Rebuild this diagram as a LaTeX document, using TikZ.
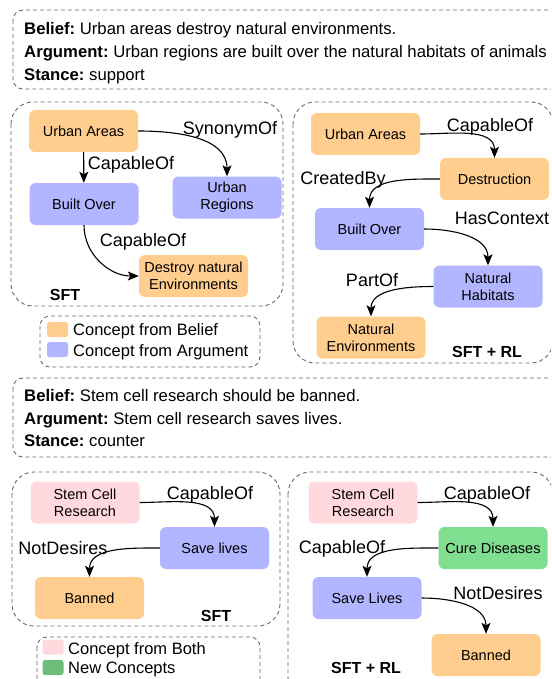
\documentclass[tikz,border=0pt]{standalone}
\usepackage{fontspec}
\setmainfont{Liberation Sans}
\usetikzlibrary{arrows.meta}
\definecolor{cbel}{RGB}{255,206,142}
\definecolor{carg}{RGB}{178,181,255}
\definecolor{cboth}{RGB}{255,217,222}
\definecolor{cnew}{RGB}{128,222,144}
\definecolor{dgray}{RGB}{105,105,105}
\frenchspacing
\begin{document}
\begin{tikzpicture}[x=1pt,y=-1pt,
  concept/.style={rounded corners=6pt, minimum width=109pt, minimum height=42pt,
    inner sep=0pt, align=center, font=\fontsize{14.5}{17}\selectfont},
  bel/.style={concept, fill=cbel},
  arg/.style={concept, fill=carg},
  both/.style={concept, fill=cboth},
  newc/.style={concept, fill=cnew},
  rel/.style={-{Stealth[length=11pt,width=9pt,inset=2.5pt]}, line width=1.1pt},
  lab/.style={font=\fontsize{18}{20}\selectfont, inner sep=0pt, text height=13pt, text depth=0pt},
  tagl/.style={font=\bfseries\fontsize{16}{18}\selectfont, inner sep=0pt},
  txt/.style={font=\fontsize{16.7}{19}\selectfont, inner sep=0pt, anchor=base west},
  legt/.style={font=\fontsize{16.5}{18}\selectfont, inner sep=0pt, anchor=west, text height=12pt, text depth=0pt},
  swatch/.style={rounded corners=2.5pt, minimum width=21pt, minimum height=15pt, inner sep=0pt},
  panel/.style={draw=dgray, dash pattern=on 4pt off 3pt, line width=0.9pt, rounded corners=22pt},
  tbox/.style={draw=dgray, dash pattern=on 4pt off 3pt, line width=0.9pt, rounded corners=10pt},
]
\useasboundingbox (0,0) rectangle (551,679);
\clip (0,0) rectangle (551,679);

% ---------- top text box ----------
\draw[tbox] (13,10) rectangle (570,89);
\node[txt] (t1) at (24,35) {\textbf{Belief:} Urban areas destroy natural environments.};
\node[txt] (t2) at (24,58) {\textbf{Argument:} Urban regions are built over the natural habitats of animals};
\node[txt] (t3) at (24,81) {\textbf{Stance:} support};

% ---------- panel 1 SFT ----------
\draw[panel] (11,102) rectangle (283,306);
\node[bel] (ua1) at (83.5,131) {Urban Areas};
\node[arg] (bo1) at (84,204) {Built Over};
\node[arg] (ur1) at (227,197.5) {Urban\\Regions};
\node[bel] (dn1) at (193.5,276) {Destroy natural\\Environments};
\draw[rel] (ua1) -- (bo1);
\draw[rel] (ua1.east) to[out=0,in=90] (ur1.north);
\draw[rel] (bo1.south) to[out=-90,in=180] (dn1.west);
\node[lab] (l11) at (131,163) {CapableOf};
\node[lab] (l12) at (230,128) {SynonymOf};
\node[lab] (l13) at (143,240) {CapableOf};
\node[tagl] (s1) at (65,295) {SFT};

% ---------- panel 1 SFT + RL ----------
\draw[panel] (293,102) rectangle (553,363);
\node[bel] (ua2) at (365.5,134) {Urban Areas};
\node[bel] (de2) at (494.5,179) {Destruction};
\node[arg] (bo2) at (369.5,229) {Built Over};
\node[arg] (nh2) at (488,286.5) {Natural\\Habitats};
\node[bel] (ne2) at (371,337.5) {Natural\\Environments};
\draw[rel] (ua2.east) to[out=0,in=90] (de2.north);
\draw[rel] (de2.west) to[out=180,in=90] (bo2.north);
\draw[rel] (bo2.east) to[out=0,in=90] (nh2.north);
\draw[rel] (nh2.west) to[out=180,in=90] (ne2.north);
\node[lab] (l21) at (490,125) {CapableOf};
\node[lab] (l22) at (343,178) {CreatedBy};
\node[lab] (l23) at (502,218) {HasContext};
\node[lab] (l24) at (372,280) {PartOf};
\node[tagl] (s2) at (487,352) {SFT + RL};

% ---------- legend 1 ----------
\draw[tbox] (40,316) rectangle (260,367);
\node[swatch, fill=cbel] (k1) at (57.5,329.5) {};
\node[swatch, fill=carg] (k2) at (57.5,349.5) {};
\node[legt] (k1t) at (73,329.5) {Concept from Belief};
\node[legt] (k2t) at (73,350) {Concept from Argument};

% ---------- middle text box ----------
\draw[tbox] (13,378) rectangle (570,457);
\node[txt] (m1) at (24,401.5) {\textbf{Belief:} Stem cell research should be banned.};
\node[txt] (m2) at (24,424) {\textbf{Argument:} Stem cell research saves lives.};
\node[txt] (m3) at (24,446.5) {\textbf{Stance:} counter};

% ---------- panel 2 SFT ----------
\draw[panel] (12,472) rectangle (280,626);
\node[both] (sc3) at (85,502.5) {Stem Cell\\Research};
\node[arg] (sl3) at (214.5,548) {Save lives};
\node[bel] (bn3) at (89.5,598) {Banned};
\draw[rel] (sc3.east) to[out=0,in=90] (sl3.north);
\draw[rel] (sl3.west) to[out=180,in=90] (bn3.north);
\node[lab] (l31) at (210,493) {CapableOf};
\node[lab] (l32) at (63,548) {NotDesires};
\node[tagl] (s3) at (216,616) {SFT};

% ---------- panel 2 SFT + RL ----------
\draw[panel] (288,472) rectangle (553,700);
\node[both] (sc4) at (363,502.5) {Stem Cell\\Research};
\node[newc] (cd4) at (493,548) {Cure Diseases};
\node[arg] (sl4) at (367,598) {Save Lives};
\node[bel] (bn4) at (486,655) {Banned};
\draw[rel] (sc4.east) to[out=0,in=90] (cd4.north);
\draw[rel] (cd4.west) to[out=180,in=90] (sl4.north);
\draw[rel] (sl4.east) to[out=0,in=90] (bn4.north);
\node[lab] (l41) at (487,493) {CapableOf};
\node[lab] (l42) at (342,547) {CapableOf};
\node[lab] (l43) at (498,593) {NotDesires};
\node[tagl] (s4) at (366,668) {SFT + RL};

% ---------- legend 2 ----------
\draw[tbox] (37,637) rectangle (260,700);
\node[swatch, fill=cboth] (k3) at (53,647) {};
\node[swatch, fill=cnew!85!black] (k4) at (53,667.5) {};
\node[legt] (k3t) at (68,648) {Concept from Both};
\node[legt] (k4t) at (68,667) {New Concepts};
\end{tikzpicture}
\end{document}
